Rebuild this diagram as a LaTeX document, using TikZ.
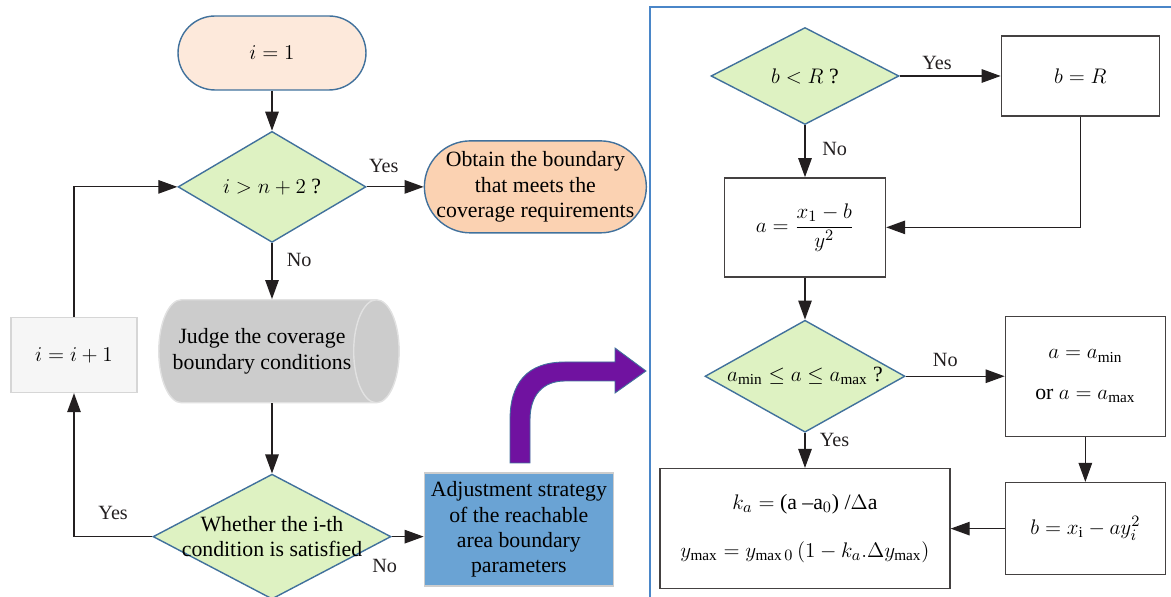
\documentclass[tikz,border=0pt]{standalone}
\usepackage{amsmath,amssymb}
\usepackage{fontspec}
\setmainfont{Liberation Serif}
\usetikzlibrary{
  shapes.geometric, shapes.misc,
  arrows.meta,
  positioning, calc
}
\definecolor{edgeblue}{RGB}{65,113,156}
\definecolor{panelblue}{RGB}{74,134,200}
\definecolor{decgreen}{RGB}{222,242,194}
\definecolor{startpeach}{RGB}{253,233,219}
\definecolor{endpeach}{RGB}{251,210,178}
\definecolor{judgegray}{RGB}{204,204,204}
\definecolor{judgeedge}{RGB}{225,225,225}
\definecolor{incgray}{RGB}{246,246,246}
\definecolor{incedge}{RGB}{214,214,214}
\definecolor{adjblue}{RGB}{106,163,212}
\definecolor{adjedge}{RGB}{205,205,205}
\definecolor{arcpurple}{RGB}{112,18,160}
\definecolor{lineblack}{RGB}{35,31,32}
\tikzset{
  basefont/.style={font=\fontsize{12.4}{14.4}\selectfont},
  termnode/.style={rectangle,draw=edgeblue,line width=0.8pt,align=center,basefont,inner sep=2pt},
  decnode/.style={diamond,draw=edgeblue,fill=decgreen,line width=0.8pt,align=center,basefont,inner sep=0pt},
  procnode/.style={rectangle,draw=lineblack!85,fill=white,line width=0.8pt,align=center,basefont},
  judgenode/.style={cylinder,draw=judgeedge,fill=judgegray,line width=0.8pt,align=center,basefont,inner xsep=1pt},
  incnode/.style={rectangle,draw=incedge,fill=incgray,line width=0.8pt,align=center,basefont},
  adjnode/.style={rectangle,draw=adjedge,fill=adjblue,line width=0.8pt,align=center,basefont},
  arr/.style={-{Triangle[length=0.38cm,width=0.27cm]},line width=0.7pt,color=lineblack},
  lbl/.style={font=\fontsize{11.5}{13}\selectfont,inner sep=1pt,text=lineblack}
}

\begin{document}
\begin{tikzpicture}[x=0.02cm,y=-0.02cm]
  \useasboundingbox (0,0) rectangle (1171,597);

  %% Left flow
  \node[termnode,fill=startpeach,rounded corners=0.74cm,minimum width=3.76cm,minimum height=1.48cm] (start) at (272,53)
    {$i = 1$};
  \node[decnode,below=0.8cm of start,aspect=1.7,minimum width=3.76cm,minimum height=2.22cm] (dec1)
    {$i > n + 2$ ?};
  \node[termnode,fill=endpeach,rounded corners=0.92cm,right=1.14cm of dec1,minimum width=4.44cm,minimum height=1.84cm] (finish)
    {Obtain the boundary\\that meets the\\coverage requirements};
  \node[judgenode,below=1.12cm of dec1,xshift=-0.2cm,minimum height=4.76cm,minimum width=2.06cm,aspect=0.8] (judge)
    {Judge the coverage\\boundary conditions};
  \node[decnode,below=1.4cm of judge,xshift=0.2cm,aspect=1.9,inner sep=-3pt,minimum width=4.76cm,minimum height=2.5cm] (dec2)
    {Whether the i-th\\condition is satisfied};
  \node[incnode,minimum width=2.52cm,minimum height=1.5cm] (inc) at (74,355)
    {$i = i + 1$};
  \node[adjnode,right=0.64cm of dec2,yshift=0.14cm,minimum width=3.78cm,minimum height=2.26cm] (adjust)
    {Adjustment strategy\\of the reachable\\area boundary\\parameters};

  %% Right flow
  \node[decnode,aspect=1.94,minimum width=3.76cm,minimum height=1.94cm] (decB) at (805,76)
    {$b < R$ ?};
  \node[procnode,right=2.02cm of decB,minimum width=3.16cm,minimum height=1.6cm] (bR)
    {$b = R$};
  \node[procnode,below=1.04cm of decB,minimum width=3.22cm,minimum height=1.98cm] (boxa)
    {$a = \dfrac{x_1 - b}{y^2}$};
  \node[decnode,below=0.84cm of boxa,aspect=1.79,minimum width=4.0cm,minimum height=2.24cm] (decA)
    {$a_{\min} \le a \le a_{\max}$ ?};
  \node[procnode,right=1.98cm of decA,minimum width=3.2cm,minimum height=2.4cm] (boxlim)
    {$a = a_{\min}$\\[0.3cm]or $a = a_{\max}$};
  \node[procnode,below=0.9cm of boxlim,minimum width=3.2cm,minimum height=1.84cm] (boxb)
    {$b = x_{\mathrm{i}} - a y_i^2$};
  \node[procnode,below=0.7cm of decA,minimum width=5.8cm,minimum height=2.4cm] (boxk)
    {$k_a =$ (a --a$_0$) /$\Delta$a\\[0.45cm]
     $y_{\max} = y_{\max 0}\,(1 - k_a.\Delta y_{\max})$};

  %% Right panel frame
  \draw[panelblue,line width=1.4pt] (650,610) -- (650,7) -- (1180,7);

  %% Arrows, left
  \draw[arr] (start) -- (dec1);
  \draw[arr] (dec1) -- node[lbl,above=7pt,pos=0.3]{Yes} (finish);
  \draw[arr] (dec1.south) -- node[lbl,right=0.25cm,pos=0.3]{No} (dec1.south |- judge.north);
  \draw[arr] (dec1.south |- judge.south) -- (dec2.north);
  \draw[arr] (dec2.west) -| node[lbl,above=0.3cm,pos=0.25]{Yes} (inc.south);
  \draw[arr] (inc.north) |- (dec1.west);
  \draw[arr] (dec2.east) -- node[lbl,pos=0,below=0.4cm,xshift=-0.14cm]{No} (adjust.west |- dec2.east);

  %% Purple turn arrow
  \draw[edgeblue,fill=arcpurple,line width=0.5pt]
    (510,463) -- (510,420) .. controls (510,383) and (527,362) .. (565,362) -- (615,362)
    -- (615,348) -- (646,371) -- (615,393) -- (615,381) -- (565,381)
    .. controls (543,381) and (530,395) .. (530,420) -- (530,463) -- cycle;

  %% Arrows, right
  \draw[arr] (decB) -- node[lbl,above=2pt,pos=0.37]{Yes} (bR);
  \draw[arr] (decB) -- node[lbl,right=0.3cm,pos=0.45]{No} (boxa);
  \draw[arr] (bR.south) |- (boxa.east);
  \draw[arr] (boxa) -- (decA);
  \draw[arr] (decA) -- node[lbl,above=4pt,pos=0.4]{No} (boxlim);
  \draw[arr] (boxlim) -- (boxb);
  \draw[arr] (boxb.west) -- (boxb.west -| boxk.east);
  \draw[arr] (decA) -- node[lbl,right=0.25cm,pos=0.2]{Yes} (boxk);

\end{tikzpicture}
\end{document}
